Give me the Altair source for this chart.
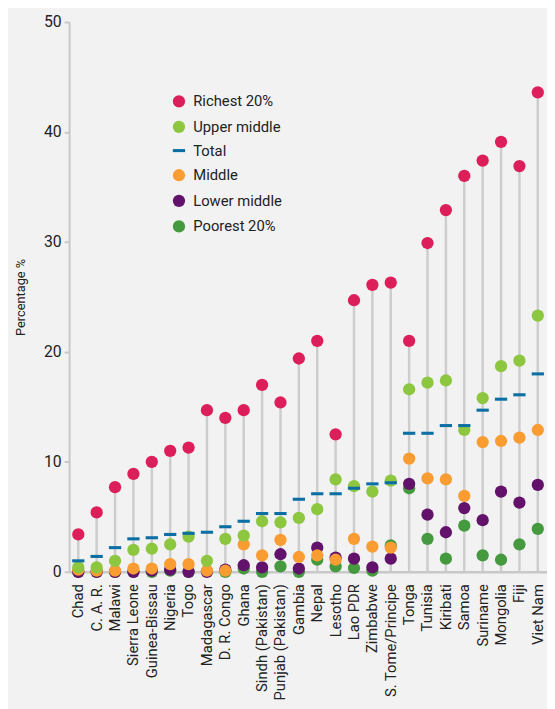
import altair as alt
import pandas as pd

countries = ["Chad", "C. A. R.", "Malawi", "Sierra Leone", "Guinea-Bissau", "Nigeria", "Togo",
             "Madagascar", "D. R. Congo", "Ghana", "Sindh (Pakistan)", "Punjab (Pakistan)",
             "Gambia", "Nepal", "Lesotho", "Lao PDR", "Zimbabwe", "S. Tome/Principe", "Tonga",
             "Tunisia", "Kiribati", "Samoa", "Suriname", "Mongolia", "Fiji", "Viet Nam"]

richest = [3.4, 5.4, 7.7, 8.9, 10.0, 11.0, 11.3, 14.7, 14.0, 14.7, 17.0, 15.4, 19.4, 21.0,
           12.5, 24.7, 26.1, 26.3, 21.0, 29.9, 32.9, 36.0, 37.4, 39.1, 36.9, 43.6]
upper = [0.4, 0.4, 1.0, 2.0, 2.1, 2.5, 3.2, 1.0, 3.0, 3.3, 4.6, 4.5, 4.9, 5.7,
         8.4, 7.8, 7.3, 8.3, 16.6, 17.2, 17.4, 12.9, 15.8, 18.7, 19.2, 23.3]
total = [1.0, 1.4, 2.2, 3.0, 3.1, 3.4, 3.5, 3.6, 4.1, 4.6, 5.3, 5.3, 6.6, 7.1,
         7.1, 7.6, 8.0, 8.1, 12.6, 12.6, 13.3, 13.3, 14.7, 15.7, 16.1, 18.0]
middle = [0.2, 0.1, 0.1, 0.3, 0.3, 0.7, 0.7, 0.1, 0.1, 2.5, 1.5, 2.9, 1.35, 1.5,
          1.1, 3.0, 2.3, 2.2, 10.3, 8.5, 8.4, 6.9, 11.8, 11.9, 12.2, 12.9]
lower = [0.0, 0.0, 0.0, 0.0, 0.1, 0.2, 0.0, 0.0, 0.2, 0.6, 0.4, 1.6, 0.3, 2.2,
         1.3, 1.2, 0.4, 1.2, 8.0, 5.2, 3.6, 5.8, 4.7, 7.3, 6.3, 7.9]
poorest = [0.0, 0.0, 0.0, 0.0, 0.0, 0.1, 0.0, 0.05, 0.0, 0.3, 0.0, 0.5, 0.0, 1.1,
           0.5, 0.35, 0.1, 2.4, 7.6, 3.0, 1.2, 4.2, 1.5, 1.1, 2.5, 3.9]

series_names = ["Richest 20%", "Upper middle", "Total", "Middle", "Lower middle", "Poorest 20%"]
series_colors = ["#dc1f5a", "#8dc63f", "#0b6fa4", "#f99d33", "#62126a", "#45993f"]
dash_path = "M-1,-0.25H1V0.25H-1Z"
series_shapes = ["circle", "circle", dash_path, "circle", "circle", "circle"]
series_sizes = [155, 155, 225, 155, 155, 155]

# drawing order: poorest first, richest last
draw_order = [("Poorest 20%", poorest), ("Lower middle", lower), ("Middle", middle),
              ("Upper middle", upper), ("Total", total), ("Richest 20%", richest)]
rows = []
for name, vals in draw_order:
    for c, v in zip(countries, vals):
        rows.append({"country": c, "series": name, "value": v})
points_df = pd.DataFrame(rows)
rules_df = pd.DataFrame({"country": countries, "top": richest})

FONT = "Roboto"

x_enc = alt.X("country:N", sort=countries,
              scale=alt.Scale(paddingInner=0, paddingOuter=0),
              axis=alt.Axis(title=None, labelAngle=-90, labelFontSize=15, labelColor="#222",
                            ticks=False, labelPadding=12, domainColor="#c8c8c8",
                            domainWidth=2.5, labelFont=FONT))
y_scale = alt.Scale(domain=[0, 50], nice=False)
y_axis = alt.Axis(title="Percentage %", values=[0, 10, 20, 30, 40, 50], grid=False,
                  labelFontSize=16, labelColor="#222", labelFont=FONT,
                  domainColor="#c8c8c8", domainWidth=2, tickColor="#c8c8c8",
                  tickSize=5, tickWidth=2, labelPadding=3,
                  titleFontSize=13, titleFontWeight="normal", titleColor="#222",
                  titleFont=FONT, titlePadding=16)

legend_cfg = dict(title=None, orient="none", legendX=104, legendY=73,
                  labelFontSize=15, labelFont=FONT, labelColor="#222",
                  symbolSize=125, rowPadding=7, labelOffset=7, symbolOpacity=1)

rules = alt.Chart(rules_df).mark_rule(color="#cdcdcd", strokeWidth=2.5).encode(
    x=x_enc,
    y=alt.Y("top:Q", scale=y_scale, axis=y_axis),
    y2=alt.datum(0),
)

points = alt.Chart(points_df).mark_point(filled=True, opacity=1).encode(
    x=alt.X("country:N", sort=countries),
    y=alt.Y("value:Q"),
    color=alt.Color("series:N", scale=alt.Scale(domain=series_names, range=series_colors),
                    legend=alt.Legend(**legend_cfg)),
    shape=alt.Shape("series:N", scale=alt.Scale(domain=series_names, range=series_shapes),
                    legend=alt.Legend(**legend_cfg)),
    size=alt.Size("series:N", scale=alt.Scale(domain=series_names, range=series_sizes),
                  legend=None),
)

chart = alt.layer(rules, points).properties(
    width=485, height=558,
    background="#f2f2f2",
    autosize=alt.AutoSizeParams(type="none"),
    padding={"left": 62, "top": 9, "right": 0, "bottom": 134},
).configure_view(stroke=None)

chart.save("out.html", embed_options={"renderer": "svg", "actions": False})
